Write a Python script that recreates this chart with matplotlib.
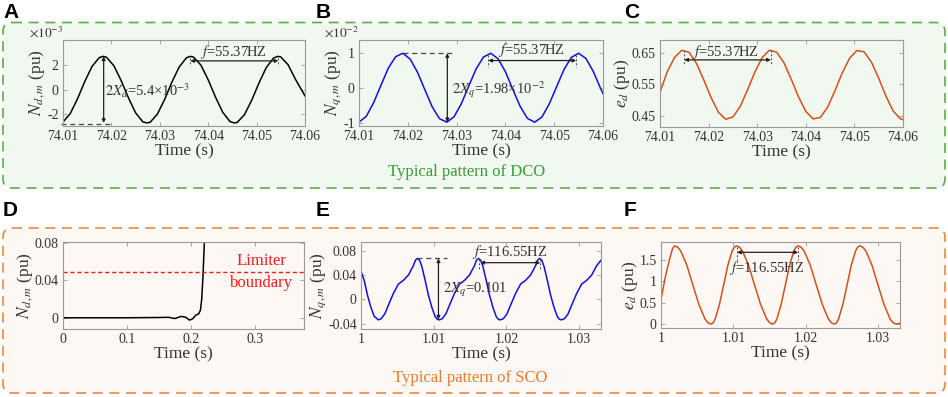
import matplotlib
matplotlib.use('Agg')
import matplotlib.pyplot as plt
from matplotlib.patches import FancyBboxPatch

plt.rcParams['font.family'] = 'serif'
plt.rcParams['font.serif'] = ['Liberation Serif', 'DejaVu Serif']
plt.rcParams['mathtext.fontset'] = 'stix'
plt.rcParams['axes.unicode_minus'] = False

# ---- data ----
# A: N_d,m (x1e-3)
a_t = [74.0100, 74.0115, 74.0130, 74.0145, 74.0160, 74.0175, 74.0183, 74.0190, 74.0205, 74.0220,
       74.0235, 74.0250, 74.0265, 74.0273, 74.0280, 74.0295, 74.0310, 74.0325, 74.0340, 74.0355,
       74.0363, 74.0370, 74.0385, 74.0400, 74.0415, 74.0430, 74.0445, 74.0454, 74.0460, 74.0475,
       74.0490, 74.0505, 74.0520, 74.0535, 74.0544, 74.0550, 74.0565, 74.0580, 74.0600]
a_v = [-2.63, -1.94, -0.73, 0.67, 1.90, 2.62, 2.72, 2.64, 1.96, 0.76,
       -0.64, -1.88, -2.61, -2.70, -2.65, -1.98, -0.79, 0.62, 1.85, 2.60,
       2.72, 2.65, 2.00, 0.81, -0.59, -1.83, -2.59, -2.70, -2.66, -2.02,
       -0.84, 0.56, 1.81, 2.58, 2.72, 2.67, 2.04, 0.87, -0.50]

# B: N_q,m (x1e-2)
b_t = [74.0100, 74.0115, 74.0130, 74.0145, 74.0160, 74.0175, 74.0190, 74.0205, 74.0220,
       74.0235, 74.0250, 74.0265, 74.0280, 74.0295, 74.0310, 74.0325, 74.0340, 74.0355,
       74.0370, 74.0385, 74.0400, 74.0415, 74.0430, 74.0445, 74.0460, 74.0475, 74.0490,
       74.0505, 74.0520, 74.0535, 74.0550, 74.0565, 74.0580, 74.0595, 74.0600]
b_v = [-0.99, -0.82, -0.43, 0.07, 0.56, 0.89, 0.99, 0.82, 0.44,
       -0.06, -0.55, -0.89, -0.99, -0.83, -0.45, 0.05, 0.54, 0.88,
       0.99, 0.83, 0.46, -0.04, -0.53, -0.88, -0.99, -0.84, -0.46,
       0.03, 0.52, 0.87, 0.99, 0.84, 0.47, -0.02, -0.17]

# C: e_d
c_t = [74.0100, 74.0115, 74.0130, 74.0145, 74.0160, 74.0175, 74.0190, 74.0205, 74.0220,
       74.0235, 74.0250, 74.0265, 74.0280, 74.0295, 74.0310, 74.0325, 74.0340, 74.0355,
       74.0370, 74.0385, 74.0400, 74.0415, 74.0430, 74.0445, 74.0460, 74.0475, 74.0490,
       74.0505, 74.0520, 74.0535, 74.0550, 74.0565, 74.0580, 74.0595, 74.0600]
c_v = [0.525, 0.591, 0.637, 0.660, 0.653, 0.618, 0.565, 0.508, 0.461,
       0.438, 0.445, 0.479, 0.532, 0.589, 0.636, 0.660, 0.654, 0.620,
       0.567, 0.510, 0.463, 0.439, 0.444, 0.477, 0.530, 0.587, 0.634,
       0.659, 0.655, 0.622, 0.570, 0.512, 0.464, 0.439, 0.437]

# D: N_d,m divergence
d_t = [0, 0.05, 0.10, 0.15, 0.165, 0.175, 0.185, 0.192, 0.198, 0.203, 0.208,
       0.212, 0.215, 0.217, 0.219, 0.2205, 0.222]
d_v = [0, 0, 0, 0.0003, 0.0005, -0.0008, 0.0015, 0.0005, -0.0025, -0.001, 0.003,
       0.004, 0.008, 0.02, 0.045, 0.07, 0.095]
limiter = 0.049

# E: N_q,m (SCO)
e_t = [1.0000, 1.00044, 1.00089, 1.00135, 1.00181, 1.00238,
       1.00278, 1.00328, 1.00376, 1.00445, 1.00514, 1.00583, 1.00652, 1.00720, 1.00748, 1.00776,
       1.00806, 1.00836, 1.00882, 1.00927, 1.00973, 1.01019, 1.01048, 1.01078,
       1.01118, 1.01168, 1.01216, 1.01285, 1.01354, 1.01423, 1.01492, 1.01560, 1.01588, 1.01616,
       1.01646, 1.01676, 1.01722, 1.01767, 1.01813, 1.01859, 1.01888, 1.01918,
       1.01958, 1.02008, 1.02056, 1.02125, 1.02194, 1.02263, 1.02332, 1.02400, 1.02428, 1.02456,
       1.02486, 1.02516, 1.02562, 1.02607, 1.02653, 1.02699, 1.02728, 1.02758,
       1.02798, 1.02848, 1.02896, 1.02965, 1.03034, 1.03103, 1.03172, 1.03240, 1.03300]
e_v = [0.046, 0.031, 0.0066, -0.013, -0.028, -0.034,
       -0.032, -0.024, -0.010, 0.0094, 0.0248, 0.031, 0.0397, 0.055, 0.064, 0.067,
       0.064, 0.054, 0.031, 0.0066, -0.013, -0.0285, -0.033, -0.034,
       -0.032, -0.024, -0.010, 0.0094, 0.0248, 0.031, 0.0397, 0.055, 0.064, 0.067,
       0.064, 0.054, 0.031, 0.0066, -0.013, -0.0285, -0.033, -0.034,
       -0.032, -0.024, -0.010, 0.0094, 0.0248, 0.031, 0.0397, 0.055, 0.064, 0.067,
       0.064, 0.054, 0.031, 0.0066, -0.013, -0.0285, -0.033, -0.034,
       -0.032, -0.024, -0.010, 0.0094, 0.0248, 0.031, 0.0397, 0.055, 0.064]

# F: e_d (SCO)
f_t = [1.0000, 1.0006, 1.0012, 1.0016, 1.0019, 1.0023,
       1.00273, 1.00357, 1.0044, 1.00523, 1.00607, 1.0065, 1.0069, 1.0072,
       1.00748, 1.00807, 1.00865, 1.00923, 1.00982, 1.01012, 1.01042, 1.01082,
       1.01125, 1.01209, 1.01292, 1.01375, 1.01459, 1.01502, 1.01542, 1.01572,
       1.01600, 1.01659, 1.01717, 1.01775, 1.01834, 1.01864, 1.01894, 1.01934,
       1.01977, 1.02061, 1.02144, 1.02227, 1.02311, 1.02354, 1.02394, 1.02424,
       1.02452, 1.02511, 1.02569, 1.02627, 1.02686, 1.02716, 1.02746, 1.02786,
       1.02829, 1.02913, 1.02996, 1.03079, 1.03163, 1.03206, 1.03246, 1.03300]
f_v = [0.57, 1.10, 1.52, 1.76, 1.82, 1.79,
       1.70, 1.37, 0.91, 0.46, 0.12, 0.03, 0.0, 0.03,
       0.12, 0.46, 0.91, 1.37, 1.70, 1.79, 1.82, 1.79,
       1.70, 1.37, 0.91, 0.46, 0.12, 0.03, 0.0, 0.03,
       0.12, 0.46, 0.91, 1.37, 1.70, 1.79, 1.82, 1.79,
       1.70, 1.37, 0.91, 0.46, 0.12, 0.03, 0.0, 0.03,
       0.12, 0.46, 0.91, 1.37, 1.70, 1.79, 1.82, 1.79,
       1.70, 1.37, 0.91, 0.46, 0.12, 0.03, 0.0, 0.02]

ticks_74 = [74.01, 74.02, 74.03, 74.04, 74.05, 74.06]
ticks_1 = [1, 1.01, 1.02, 1.03]
labels_1 = ['1', '1.01', '1.02', '1.03']

BLUE = '#1010e0'
ORANGE = '#d4501c'
GREEN = '#3d9a3d'
TXT = '#333333'
W, H = 948, 397

fig = plt.figure(figsize=(W / 100, H / 100), dpi=100)

# background panel with the two dashed boxes (pixel coordinates)
bg = fig.add_axes([0, 0, 1, 1], zorder=-5)
bg.set_xlim(0, W)
bg.set_ylim(H, 0)
bg.axis('off')
bg.add_patch(FancyBboxPatch((3, 22.5), 942, 165.5, boxstyle='round,pad=0,rounding_size=9',
                            fc='#f1f8ef', ec='#5faa50', lw=1.2, ls=(0, (6, 4))))
bg.add_patch(FancyBboxPatch((3, 228), 942, 165, boxstyle='round,pad=0,rounding_size=9',
                            fc='#fdf8f3', ec='#f0883e', lw=1.2, ls=(0, (6, 4))))
for lab, x, y in [('A', 3, 12), ('B', 316, 12), ('C', 624, 12),
                  ('D', 3, 211), ('E', 316, 211), ('F', 624, 211)]:
    bg.text(x, y, lab, family='Liberation Sans', weight='bold', fontsize=15,
            va='center', ha='left', color='black')
bg.text(467, 172, 'Typical pattern of DCO', color=GREEN, fontsize=12, ha='center', va='center')
bg.text(470, 378, 'Typical pattern of SCO', color='#ee7a30', fontsize=12, ha='center', va='center')


def make_ax(x0, y0, x1, y1):
    ax = fig.add_axes([x0 / W, (H - y1) / H, (x1 - x0) / W, (y1 - y0) / H])
    ax.set_facecolor('none')
    for s in ax.spines.values():
        s.set_color('#9a9a9a')
        s.set_linewidth(0.8)
    ax.tick_params(direction='in', top=True, right=True, length=3, width=0.6,
                   color='#9a9a9a', labelsize=10, labelcolor=TXT, pad=3)
    ax.set_xlabel('Time (s)', fontsize=12.5, color=TXT, labelpad=0)
    return ax


def harrow(ax, x0, x1, y):
    ax.annotate('', xy=(x1, y), xytext=(x0, y),
                arrowprops=dict(arrowstyle='<|-|>', color='#222222', lw=0.9,
                                mutation_scale=5, shrinkA=0, shrinkB=0))


def varrow(ax, x, y0, y1):
    ax.annotate('', xy=(x, y1), xytext=(x, y0),
                arrowprops=dict(arrowstyle='<|-|>', color='#222222', lw=0.9,
                                mutation_scale=5, shrinkA=0, shrinkB=0))


# ---- A ----
ax = make_ax(63, 40, 305, 126)
ax.plot(a_t, a_v, color='black', lw=1.1)
ax.set_xlim(74.01, 74.06)
ax.set_ylim(-2.95, 4.05)
ax.set_xticks(ticks_74)
ax.set_yticks([-2, 0, 2])
ax.set_yticklabels(['-2', '0', '2'])
ax.set_ylabel(r'$N_{d,m}$ (pu)', fontsize=12.5, color=TXT, labelpad=0)
ax.text(0, 1.0, r'$\times10^{-3}$', transform=ax.transAxes, ha='right', va='bottom',
        fontsize=9.5, color=TXT)
ax.plot([74.0095, 74.0203], [-2.75, -2.75], color='#444444', lw=0.9, ls=(0, (4, 3)), clip_on=False)
varrow(ax, 74.0184, 2.72, -2.7)
ax.text(74.0187, -0.1, r'$2X_d$=5.4×10$^{-3}$', fontsize=10.5, color=TXT, va='center')
harrow(ax, 74.0363, 74.0545, 2.35)
for xx in [74.0363, 74.0545]:
    ax.plot([xx, xx], [2.6, 1.9], color='#444444', lw=0.7, ls=(0, (2, 2)))
ax.text(74.0452, 3.1, r'$f$=55.37HZ', fontsize=10.5, color=TXT, ha='center', va='center')

# ---- B ----
ax = make_ax(359, 40, 603, 126)
ax.plot(b_t, b_v, color=BLUE, lw=1.1)
ax.set_xlim(74.01, 74.06)
ax.set_ylim(-1.1, 1.37)
ax.set_xticks(ticks_74)
ax.set_yticks([-1, 0, 1])
ax.set_yticklabels(['-1', '0', '1'])
ax.set_ylabel(r'$N_{q,m}$ (pu)', fontsize=12.5, color=TXT, labelpad=0)
ax.text(0, 1.0, r'$\times10^{-2}$', transform=ax.transAxes, ha='right', va='bottom',
        fontsize=9.5, color=TXT)
ax.plot([74.0190, 74.0297], [1.0, 1.0], color='#444444', lw=0.9, ls=(0, (4, 3)))
varrow(ax, 74.0281, 0.99, -0.99)
ax.text(74.0290, -0.05, r'$2X_q$=1.98×10$^{-2}$', fontsize=10.5, color=TXT, va='center')
harrow(ax, 74.0365, 74.0545, 0.78)
for xx in [74.0365, 74.0545]:
    ax.plot([xx, xx], [0.95, 0.6], color='#444444', lw=0.7, ls=(0, (2, 2)))
ax.text(74.0454, 1.09, r'$f$=55.37HZ', fontsize=10.5, color=TXT, ha='center', va='center')

# ---- C ----
ax = make_ax(660, 40, 903, 127)
ax.plot(c_t, c_v, color=ORANGE, lw=1.1)
ax.set_xlim(74.01, 74.06)
ax.set_ylim(0.413, 0.693)
ax.set_xticks(ticks_74)
ax.set_yticks([0.45, 0.55, 0.65])
ax.set_ylabel(r'$e_d$ (pu)', fontsize=12.5, color=TXT, labelpad=0)
harrow(ax, 74.0150, 74.0328, 0.629)
for xx in [74.0150, 74.0328]:
    ax.plot([xx, xx], [0.66, 0.615], color='#444444', lw=0.7, ls=(0, (2, 2)))
ax.text(74.0235, 0.654, r'$f$=55.37HZ', fontsize=10.5, color=TXT, ha='center', va='center')

# ---- D ----
ax = make_ax(63, 242, 304, 329)
ax.plot(d_t, d_v, color='black', lw=1.1)
ax.axhline(limiter, color='#ff1a1a', lw=1.0, ls=(0, (3, 2)))
ax.set_xlim(0, 0.377)
ax.set_ylim(-0.012, 0.081)
ax.set_xticks([0, 0.1, 0.2, 0.3])
ax.set_xticklabels(['0', '0.1', '0.2', '0.3'])
ax.set_yticks([0, 0.04, 0.08])
ax.set_yticklabels(['0', '0.04', '0.08'])
ax.set_ylabel(r'$N_{d,m}$ (pu)', fontsize=12.5, color=TXT, labelpad=0)
ax.text(0.31, limiter, 'Limiter\nboundary', color='#ff1a1a', fontsize=12, ha='center',
        va='center', linespacing=1.45)

# ---- E ----
ax = make_ax(361, 242, 601, 329)
ax.plot(e_t, e_v, color=BLUE, lw=1.1)
ax.set_xlim(1, 1.033)
ax.set_ylim(-0.049, 0.094)
ax.set_xticks(ticks_1)
ax.set_xticklabels(labels_1)
ax.set_yticks([-0.04, 0, 0.04, 0.08])
ax.set_yticklabels(['-0.04', '0', '0.04', '0.08'])
ax.set_ylabel(r'$N_{q,m}$ (pu)', fontsize=12.5, color=TXT, labelpad=0)
ax.plot([1.00776, 1.0118], [0.067, 0.067], color='#444444', lw=0.9, ls=(0, (4, 3)))
varrow(ax, 1.01065, 0.067, -0.0335)
ax.text(1.01125, 0.015, r'$2X_q$=0.101', fontsize=10.5, color=TXT, va='center')
harrow(ax, 1.01640, 1.02466, 0.060)
for xx in [1.01616, 1.02456]:
    ax.plot([xx, xx], [0.066, 0.048], color='#444444', lw=0.7, ls=(0, (2, 2)))
ax.text(1.0205, 0.077, r'$f$=116.55HZ', fontsize=10.5, color=TXT, ha='center', va='center')

# ---- F ----
ax = make_ax(661, 242, 900, 328)
ax.plot(f_t, f_v, color=ORANGE, lw=1.1)
ax.set_xlim(1, 1.033)
ax.set_ylim(-0.09, 1.91)
ax.set_xticks(ticks_1)
ax.set_xticklabels(labels_1)
ax.set_yticks([0, 0.5, 1, 1.5])
ax.set_yticklabels(['0', '0.5', '1', '1.5'])
ax.set_ylabel(r'$e_d$ (pu)', fontsize=12.5, color=TXT, labelpad=0)
harrow(ax, 1.01050, 1.01894, 1.67)
for xx in [1.01050, 1.01894]:
    ax.plot([xx, xx], [1.80, 1.50], color='#444444', lw=0.7, ls=(0, (2, 2)))
ax.text(1.01464, 1.31, r'$f$=116.55HZ', fontsize=10.5, color=TXT, ha='center', va='center')

fig.savefig('out.png', dpi=100)
